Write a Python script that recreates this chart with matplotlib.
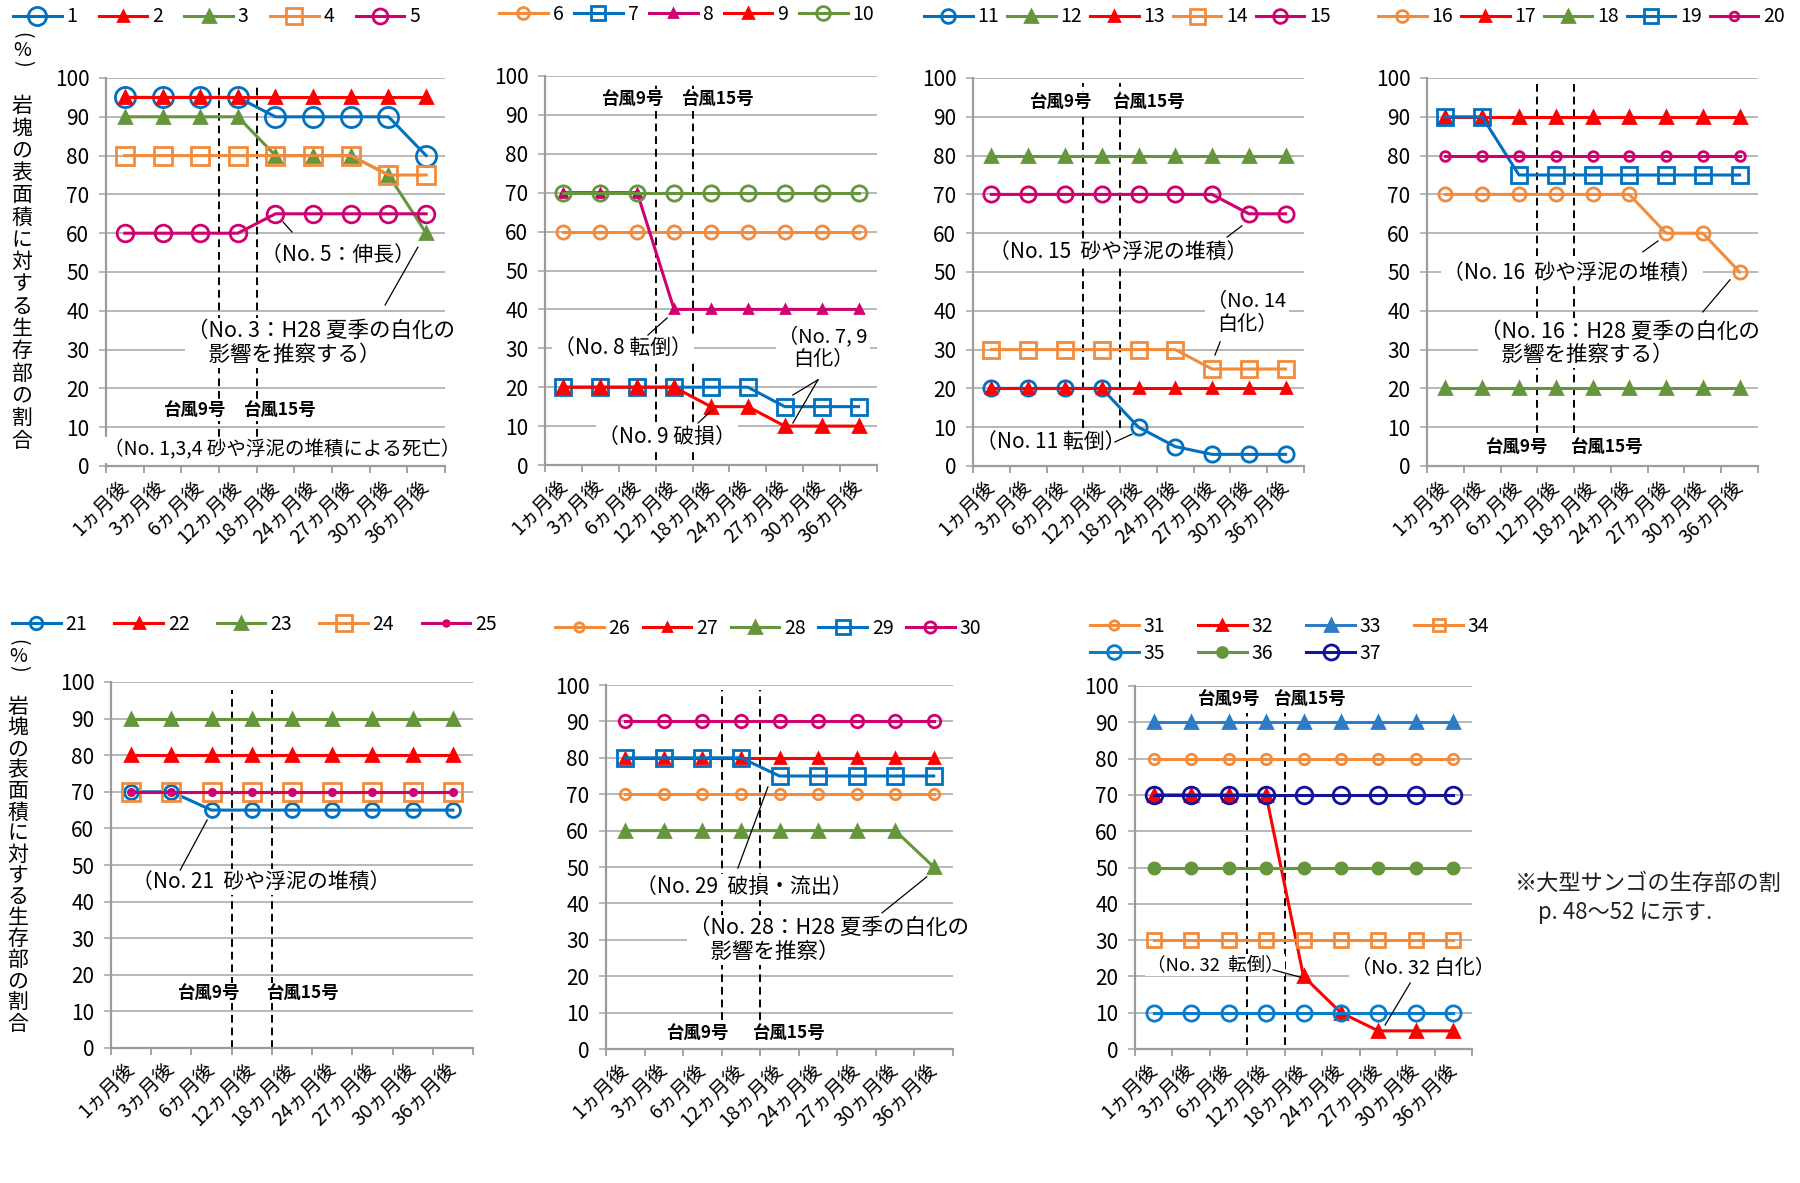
import matplotlib
matplotlib.use("Agg")
import matplotlib.pyplot as plt

plt.rcParams["font.family"] = ["Noto Sans CJK JP", "DejaVu Sans"]

W, H = 1800, 1183
fig = plt.figure(figsize=(W / 100, H / 100), dpi=100)

# ---------------------------------------------------------------- data
periods = ["1ヵ月後", "3ヵ月後", "6ヵ月後", "12ヵ月後", "18ヵ月後",
           "24ヵ月後", "27ヵ月後", "30ヵ月後", "36ヵ月後"]

# living-tissue share of the boulder surface (%) for each colony
colony_01 = [95, 95, 95, 95, 90, 90, 90, 90, 80]
colony_02 = [95, 95, 95, 95, 95, 95, 95, 95, 95]
colony_03 = [90, 90, 90, 90, 80, 80, 80, 75, 60]
colony_04 = [80, 80, 80, 80, 80, 80, 80, 75, 75]
colony_05 = [60, 60, 60, 60, 65, 65, 65, 65, 65]
colony_06 = [60, 60, 60, 60, 60, 60, 60, 60, 60]
colony_07 = [20, 20, 20, 20, 20, 20, 15, 15, 15]
colony_08 = [70, 70, 70, 40, 40, 40, 40, 40, 40]
colony_09 = [20, 20, 20, 20, 15, 15, 10, 10, 10]
colony_10 = [70, 70, 70, 70, 70, 70, 70, 70, 70]
colony_11 = [20, 20, 20, 20, 10, 5, 3, 3, 3]
colony_12 = [80, 80, 80, 80, 80, 80, 80, 80, 80]
colony_13 = [20, 20, 20, 20, 20, 20, 20, 20, 20]
colony_14 = [30, 30, 30, 30, 30, 30, 25, 25, 25]
colony_15 = [70, 70, 70, 70, 70, 70, 70, 65, 65]
colony_16 = [70, 70, 70, 70, 70, 70, 60, 60, 50]
colony_17 = [90, 90, 90, 90, 90, 90, 90, 90, 90]
colony_18 = [20, 20, 20, 20, 20, 20, 20, 20, 20]
colony_19 = [90, 90, 75, 75, 75, 75, 75, 75, 75]
colony_20 = [80, 80, 80, 80, 80, 80, 80, 80, 80]
colony_21 = [70, 70, 65, 65, 65, 65, 65, 65, 65]
colony_22 = [80, 80, 80, 80, 80, 80, 80, 80, 80]
colony_23 = [90, 90, 90, 90, 90, 90, 90, 90, 90]
colony_24 = [70, 70, 70, 70, 70, 70, 70, 70, 70]
colony_25 = [70, 70, 70, 70, 70, 70, 70, 70, 70]
colony_26 = [70, 70, 70, 70, 70, 70, 70, 70, 70]
colony_27 = [80, 80, 80, 80, 80, 80, 80, 80, 80]
colony_28 = [60, 60, 60, 60, 60, 60, 60, 60, 50]
colony_29 = [80, 80, 80, 80, 75, 75, 75, 75, 75]
colony_30 = [90, 90, 90, 90, 90, 90, 90, 90, 90]
colony_31 = [80, 80, 80, 80, 80, 80, 80, 80, 80]
colony_32 = [70, 70, 70, 70, 20, 10, 5, 5, 5]
colony_33 = [90, 90, 90, 90, 90, 90, 90, 90, 90]
colony_34 = [30, 30, 30, 30, 30, 30, 30, 30, 30]
colony_35 = [10, 10, 10, 10, 10, 10, 10, 10, 10]
colony_36 = [50, 50, 50, 50, 50, 50, 50, 50, 50]
colony_37 = [70, 70, 70, 70, 70, 70, 70, 70, 70]

series = {
    1: colony_01, 2: colony_02, 3: colony_03, 4: colony_04, 5: colony_05,
    6: colony_06, 7: colony_07, 8: colony_08, 9: colony_09, 10: colony_10,
    11: colony_11, 12: colony_12, 13: colony_13, 14: colony_14, 15: colony_15,
    16: colony_16, 17: colony_17, 18: colony_18, 19: colony_19, 20: colony_20,
    21: colony_21, 22: colony_22, 23: colony_23, 24: colony_24, 25: colony_25,
    26: colony_26, 27: colony_27, 28: colony_28, 29: colony_29, 30: colony_30,
    31: colony_31, 32: colony_32, 33: colony_33, 34: colony_34, 35: colony_35,
    36: colony_36, 37: colony_37,
}

# ---------------------------------------------------------------- styles
BLUE = "#0070C0"
RED = "#FF0000"
GREEN = "#66963C"
ORANGE = "#F28B3C"
MAGENTA = "#CF0070"
NAVY = "#12129A"
SKY = "#2E7CC6"

# colour, marker, marker size, filled marker
look = {
    1: (BLUE, "o", 14.5, False), 2: (RED, "^", 8, True), 3: (GREEN, "^", 9, True),
    4: (ORANGE, "s", 13, False), 5: (MAGENTA, "o", 12, False),
    6: (ORANGE, "o", 9.5, False), 7: (BLUE, "s", 11, False), 8: (MAGENTA, "^", 6, True),
    9: (RED, "^", 8, True), 10: (GREEN, "o", 11, False),
    11: (BLUE, "o", 11, False), 12: (GREEN, "^", 9, True), 13: (RED, "^", 7.5, True),
    14: (ORANGE, "s", 12, False), 15: (MAGENTA, "o", 11, False),
    16: (ORANGE, "o", 9.5, False), 17: (RED, "^", 8, True), 18: (GREEN, "^", 9, True),
    19: (BLUE, "s", 11.5, False), 20: (MAGENTA, "o", 7, False),
    21: (BLUE, "o", 10, False), 22: (RED, "^", 8, True), 23: (GREEN, "^", 9, True),
    24: (ORANGE, "s", 13, False), 25: (MAGENTA, "o", 4.5, True),
    26: (ORANGE, "o", 7.5, False), 27: (RED, "^", 6.5, True), 28: (GREEN, "^", 9, True),
    29: (BLUE, "s", 11, False), 30: (MAGENTA, "o", 9, False),
    31: (ORANGE, "o", 7.5, False), 32: (RED, "^", 8, True), 33: (SKY, "^", 9, True),
    34: (ORANGE, "s", 10, False), 35: ("#0B7BCB", "o", 11, False),
    36: (GREEN, "o", 8, True), 37: (NAVY, "o", 12, False),
}

GRID = "#ABABAB"
AXIS = "#9C9C9C"

# ---------------------------------------------------------------- panels
panels = [
    dict(ids=[1, 2, 3, 4, 5], box=(106, 78, 445, 466),
         legend=(13, 17, 5, 1.1), storm=(98, 1),
         storm_labels=[(2.36, 14.4), (4.62, 14.4)],
         notes=[("（No. 5：伸長）", 6.16, 54.4, 15, "center"),
                ("（No. 3：H28 夏季の白化の\n　影響を推察する）", 2.15, 31.7, 15.5, "left"),
                ("（No. 1,3,4 砂や浮泥の堆積による死亡）", 4.67, 4.1, 14, "center")],
         leaders=[((4.94, 60.3), (4.70, 62.9)), ((7.41, 41.5), (8.28, 56.4))]),
    dict(ids=[6, 7, 8, 9, 10], box=(545, 76, 877, 465),
         legend=(499, 14, 5, 0.55), storm=(98.5, 1.3),
         storm_labels=[(2.39, 94.1), (4.69, 94.1)],
         notes=[("（No. 8 転倒）", 2.11, 30.1, 15, "center"),
                ("（No. 7, 9\n白化）", 7.54, 30.1, 14.5, "center"),
                ("（No. 9 破損）", 3.31, 7.2, 15, "center")],
         leaders=[((2.79, 33.4), (3.31, 37.8)), ((7.40, 21.9), (6.72, 18.0)),
                  ((7.40, 21.9), (6.72, 10.8)), ((4.15, 10.8), (4.47, 13.6))]),
    dict(ids=[11, 12, 13, 14, 15], box=(973, 78, 1304, 466),
         legend=(924, 17, 5, 0.4), storm=(98.7, 9.8),
         storm_labels=[(2.39, 93.8), (4.79, 93.8)],
         notes=[("（No. 15  砂や浮泥の堆積）", 3.94, 55.2, 15, "center"),
                ("（No. 14\n白化）", 7.45, 39.4, 14.5, "center"),
                ("（No. 11 転倒）", 2.12, 6.2, 15, "center")],
         leaders=[((6.91, 59.0), (7.31, 61.9)), ((6.58, 28.6), (6.72, 32.0)),
                  ((3.86, 6.2), (4.32, 8.2))]),
    dict(ids=[16, 17, 18, 19, 20], box=(1427, 78, 1758, 466),
         legend=(1378, 17, 5, 0.4), storm=(99, 8.5),
         storm_labels=[(2.45, 4.9), (4.89, 4.9)],
         notes=[("（No. 16  砂や浮泥の堆積）", 3.94, 49.7, 15, "center"),
                ("（No. 16：H28 夏季の白化の\n　影響を推察する）", 1.45, 31.6, 15.5, "left")],
         leaders=[((5.87, 55.2), (6.28, 58.0)), ((7.50, 39.7), (8.24, 48.0))]),
    dict(ids=[21, 22, 23, 24, 25], box=(111, 682, 473, 1048),
         legend=(12, 624, 5, 1.4), storm=(97.8, 0),
         storm_labels=[(2.44, 15.0), (4.77, 15.0)],
         notes=[("（No. 21  砂や浮泥の堆積）", 3.73, 45.4, 15, "center")],
         leaders=[((1.72, 48.6), (2.39, 62.3))]),
    dict(ids=[26, 27, 28, 29, 30], box=(606, 685, 953, 1049),
         legend=(555, 628, 5, 0.65), storm=(98.6, 8),
         storm_labels=[(2.39, 4.4), (4.75, 4.4)],
         notes=[("（No. 29  破損・流出）", 3.58, 44.5, 15, "center"),
                ("（No. 28：H28 夏季の白化の\n　影響を推察）", 2.15, 29.9, 15.5, "left")],
         leaders=[((3.42, 49.7), (4.20, 72.0)), ((7.16, 37.4), (8.32, 47.3))]),
    dict(ids=[31, 32, 33, 34, 35, 36, 37], box=(1135, 686, 1472, 1049),
         legend=(1090, 640, 4, 1.7), storm=(92.6, 1),
         storm_labels=[(2.51, 96.4), (4.67, 96.4)],
         notes=[("（No. 32  転倒）", 2.14, 23.1, 13.3, "center"),
                ("（No. 32 白化）", 7.69, 22.3, 14.5, "center")],
         leaders=[((3.69, 21.8), (4.41, 19.8)), ((7.35, 18.2), (6.68, 6.6))]),
]

storm_names = ["台風9号", "台風15号"]
storm_bounds = [3, 4]
y_title = "岩塊の表面積に対する生存部の割合"

x_pos = [i + 0.5 for i in range(len(periods))]

for p in panels:
    left, top, right, bottom = p["box"]
    ax = fig.add_axes([left / W, 1 - bottom / H, (right - left) / W, (bottom - top) / H])

    for k in p["ids"]:
        col, mk, ms, filled = look[k]
        ax.plot(x_pos, series[k], color=col, lw=2.2, marker=mk, ms=ms,
                mfc=col if filled else "none", mec=col, mew=2.0,
                label=str(k), zorder=3, clip_on=False)

    ax.set_xlim(0, 9)
    ax.set_ylim(0, 100)
    ax.set_yticks(range(0, 101, 10))
    ax.yaxis.grid(True, color=GRID, lw=1.2)
    ax.set_axisbelow(True)
    for s in ("top", "right"):
        ax.spines[s].set_visible(False)
    for s in ("left", "bottom"):
        ax.spines[s].set_color(AXIS)
        ax.spines[s].set_linewidth(1.6)

    ax.set_xticks(range(10))
    ax.set_xticklabels([])
    ax.set_xticks(x_pos, minor=True)
    ax.set_xticklabels(periods, minor=True, rotation=45, ha="right",
                       va="center", rotation_mode="anchor", fontsize=14)
    ax.tick_params(axis="x", which="major", length=5, width=1.3, color=AXIS)
    ax.tick_params(axis="x", which="minor", length=0, pad=13)
    ax.tick_params(axis="y", length=5, width=1.2, color=GRID, labelsize=15, pad=7)

    # typhoon passage markers
    y_hi, y_lo = p["storm"]
    for xb in storm_bounds:
        ax.plot([xb, xb], [y_lo, y_hi], color="black", lw=1.4,
                ls=(0, (4, 2.5)), zorder=2.5)
    for name, (sx, sy) in zip(storm_names, p["storm_labels"]):
        ax.text(sx, sy, name, ha="center", va="center", fontsize=12.5,
                fontweight="bold", zorder=5,
                bbox=dict(fc="white", ec="none", pad=1))

    for txt, tx, ty, fs, ha in p["notes"]:
        ax.text(tx, ty, txt, ha=ha, va="center", fontsize=fs, multialignment=ha,
                linespacing=1.1, zorder=5,
                bbox=dict(fc="white", ec="none", pad=1.5))
    for (x1, y1), (x2, y2) in p["leaders"]:
        ax.plot([x1, x2], [y1, y2], color="black", lw=0.9, zorder=6, clip_on=False)

    lx, ly, ncol, colsp = p["legend"]
    handles, labels = ax.get_legend_handles_labels()
    if ncol == 4:
        order = [0, 4, 1, 5, 2, 6, 3]
        handles = [handles[i] for i in order]
        labels = [labels[i] for i in order]
    ax.legend(handles, labels, loc="center left",
              bbox_to_anchor=(lx / W, 1 - ly / H), bbox_transform=fig.transFigure,
              ncol=ncol, frameon=False, fontsize=14, handlelength=2.5,
              handletextpad=0.25, columnspacing=colsp, borderpad=0,
              borderaxespad=0, markerscale=0.9, labelspacing=0.3)

# vertical axis captions
for x0, paren_ys, y_first, pitch in [(22, (35, 51, 63), 106, 22.3),
                                     (18, (642, 657, 668), 707, 21.1)]:
    fig.text(x0 / W, 1 - paren_ys[0] / H, "(", rotation=270, ha="center",
             va="center", fontsize=14)
    fig.text(x0 / W, 1 - paren_ys[1] / H, "%", ha="center", va="center", fontsize=14)
    fig.text(x0 / W, 1 - paren_ys[2] / H, ")", rotation=270, ha="center",
             va="center", fontsize=14)
    for i, ch in enumerate(y_title):
        fig.text(x0 / W, 1 - (y_first + i * pitch) / H, ch, ha="center",
                 va="center", fontsize=15)

# side note
fig.text(1515 / W, 1 - 883 / H, "※大型サンゴの生存部の割", ha="left", va="center",
         fontsize=16, color="#222222")
fig.text(1538 / W, 1 - 913 / H, "p. 48～52 に示す.", ha="left", va="center",
         fontsize=16, color="#222222")

fig.savefig("out.png", dpi=100)
